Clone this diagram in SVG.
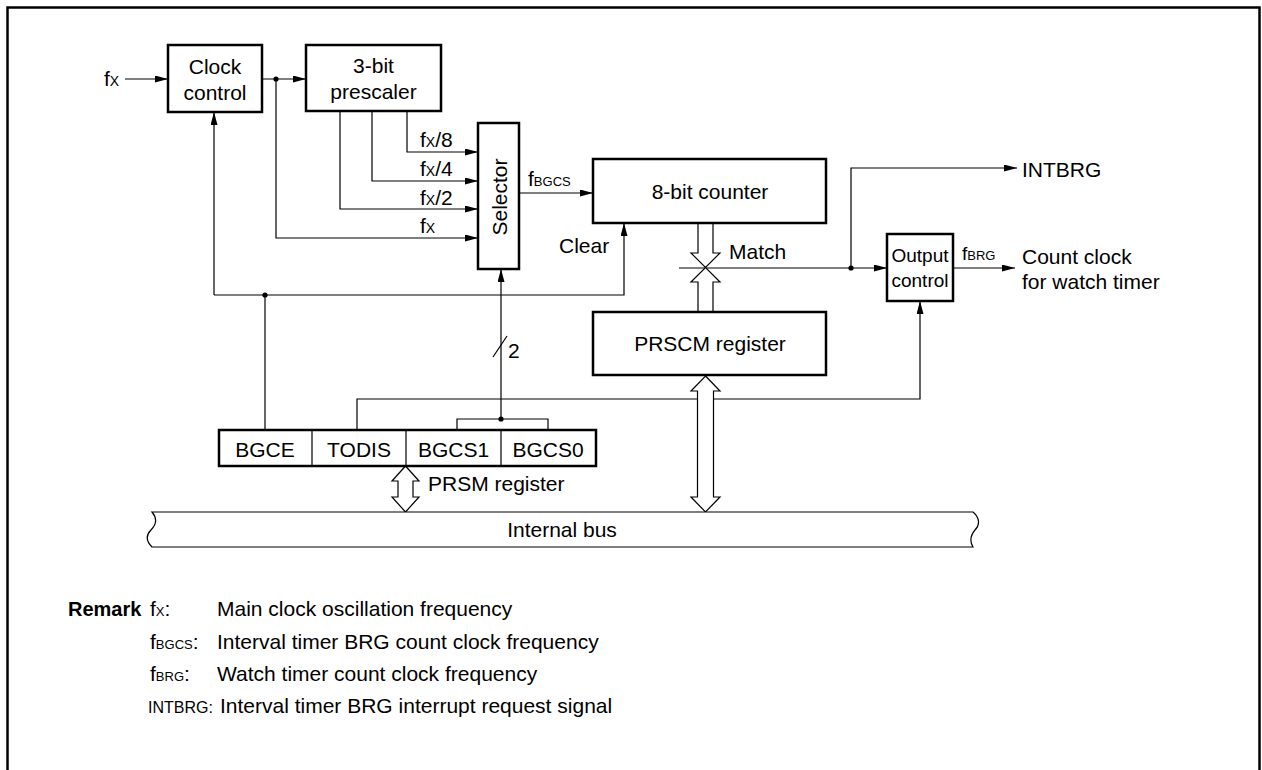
<svg xmlns="http://www.w3.org/2000/svg" width="1262" height="770" viewBox="0 0 1262 770">
<style>
text{font-family:"Liberation Sans",Arial,sans-serif;font-size:21px;fill:#000}
.box{fill:#fff;stroke:#000;stroke-width:2.5}
.ln{fill:none;stroke:#000;stroke-width:1.2}
.ha{fill:#fff;stroke:#000;stroke-width:1.2}
.s{font-size:14px}
.m{text-anchor:middle}
.b{font-weight:bold;font-size:20px}
</style>
<defs>
<marker id="ar" markerUnits="userSpaceOnUse" markerWidth="13" markerHeight="7" refX="13" refY="3.5" orient="auto">
<path d="M0,0 L13,3.5 L0,7 z" fill="#000"/>
</marker>
</defs>
<rect x="7.5" y="7.5" width="1252" height="800" fill="none" stroke="#000" stroke-width="2.5"/>

<g id="connectors">
<path class="ln" d="M125,79 L168,79" marker-end="url(#ar)"/>
<path class="ln" d="M262,79 L306,79" marker-end="url(#ar)"/>
<path class="ln" d="M276,79 L276,238 L478,238" marker-end="url(#ar)"/>
<path class="ln" d="M407,111 L407,152 L478,152" marker-end="url(#ar)"/>
<path class="ln" d="M372,111 L372,181 L478,181" marker-end="url(#ar)"/>
<path class="ln" d="M340,111 L340,209 L478,209" marker-end="url(#ar)"/>
<path class="ln" d="M519,193 L593,193" marker-end="url(#ar)"/>
<path class="ln" d="M214,295 L214,112" marker-end="url(#ar)"/>
<path class="ln" d="M214,295 L624,295 L624,223" marker-end="url(#ar)"/>
<path class="ln" d="M265,430 L265,295"/>
<path class="ln" d="M501,419 L501,269" marker-end="url(#ar)"/>
<path class="ln" d="M493,357 L507,336"/>
<path class="ln" d="M457,430 L457,419 L548,419 L548,430"/>
<path class="ln" d="M357,430 L357,399 L920,399 L920,301" marker-end="url(#ar)"/>
<path class="ln" d="M679,268 L887,268" marker-end="url(#ar)"/>
<path class="ln" d="M851,268 L851,168 L1017,168" marker-end="url(#ar)"/>
<path class="ln" d="M953,268 L1015,268" marker-end="url(#ar)"/>
<circle cx="276" cy="79" r="2.6"/>
<circle cx="265" cy="295" r="2.6"/>
<circle cx="501" cy="419" r="2.6"/>
<circle cx="851" cy="268" r="2.6"/>
<path class="ha" d="M698,223 L698,253 L691,253 L705.5,267.5 L720,253 L713,253 L713,223"/>
<path class="ha" d="M698,312 L698,282 L691,282 L705.5,267.5 L720,282 L713,282 L713,312"/>
<path class="ha" d="M705.5,376 L720,391 L713.5,391 L713.5,497 L720,497 L705.5,512 L691,497 L697.5,497 L697.5,391 L691,391 Z"/>
<path class="ha" d="M405.5,466 L419,481 L413,481 L413,497 L419,497 L405.5,512 L392,497 L398,497 L398,481 L392,481 Z"/>
</g>

<text x="104" y="86">f<tspan class="s">X</tspan></text>
<text x="420" y="147">f<tspan class="s">X</tspan>/8</text>
<text x="420" y="176">f<tspan class="s">X</tspan>/4</text>
<text x="420" y="205">f<tspan class="s">X</tspan>/2</text>
<text x="420" y="233">f<tspan class="s">X</tspan></text>
<text x="528" y="186">f<tspan style="font-size:13px">BGCS</tspan></text>
<text x="559" y="253">Clear</text>
<text x="729" y="259">Match</text>
<text x="508" y="358">2</text>
<text x="1022" y="177">INTBRG</text>
<text x="962" y="260" style="font-size:19px">f<tspan style="font-size:13px">BRG</tspan></text>
<text x="1022" y="264">Count clock</text>
<text x="1022" y="289">for watch timer</text>
<text x="428" y="491">PRSM register</text>

<g id="clock-control">
<rect class="box" x="168" y="45" width="94" height="67"/>
<text class="m" x="215" y="74">Clock</text>
<text class="m" x="215" y="100">control</text>
</g>
<g id="prescaler">
<rect class="box" x="306" y="45" width="135" height="66"/>
<text class="m" x="373.5" y="73">3-bit</text>
<text class="m" x="373.5" y="99">prescaler</text>
</g>
<g id="selector">
<rect class="box" x="478" y="123" width="41" height="146"/>
<text class="m" transform="translate(506.5,197) rotate(-90)">Selector</text>
</g>
<g id="counter">
<rect class="box" x="593" y="159" width="233" height="64"/>
<text class="m" x="710" y="199">8-bit counter</text>
</g>
<g id="prscm">
<rect class="box" x="593" y="312" width="233" height="63"/>
<text class="m" x="710" y="351">PRSCM register</text>
</g>
<g id="output-control">
<rect class="box" x="887" y="234" width="66" height="67"/>
<text class="m" x="920" y="262" style="font-size:19px">Output</text>
<text class="m" x="920" y="287" style="font-size:19px">control</text>
</g>
<g id="prsm">
<rect class="box" x="219" y="430" width="377" height="36"/>
<path class="ln" d="M312,430 V466 M406,430 V466 M501,430 V466"/>
<text class="m" x="265" y="457">BGCE</text>
<text class="m" x="359" y="457">TODIS</text>
<text class="m" x="453.5" y="457">BGCS1</text>
<text class="m" x="548" y="457">BGCS0</text>
</g>
<g id="internal-bus">
<path class="ha" d="M152,512 L973,512 C980,518 980,525 975,530 C970,536 970,542 973,547 L152,547 C146,541 146,535 151,530 C157,524 157,518 152,512 Z"/>
<text class="m" x="562" y="537">Internal bus</text>
</g>

<g id="remark">
<text class="b" x="68" y="616">Remark</text>
<text x="150" y="616">f<tspan style="font-size:13px">X</tspan>:</text>
<text x="217" y="616">Main clock oscillation frequency</text>
<text x="150" y="649">f<tspan style="font-size:13px">BGCS</tspan>:</text>
<text x="217" y="649">Interval timer BRG count clock frequency</text>
<text x="150" y="681">f<tspan style="font-size:13px">BRG</tspan>:</text>
<text x="217" y="681">Watch timer count clock frequency</text>
<text x="148" y="713" style="font-size:16px">INTBRG:</text>
<text x="220" y="713">Interval timer BRG interrupt request signal</text>
</g>
</svg>
